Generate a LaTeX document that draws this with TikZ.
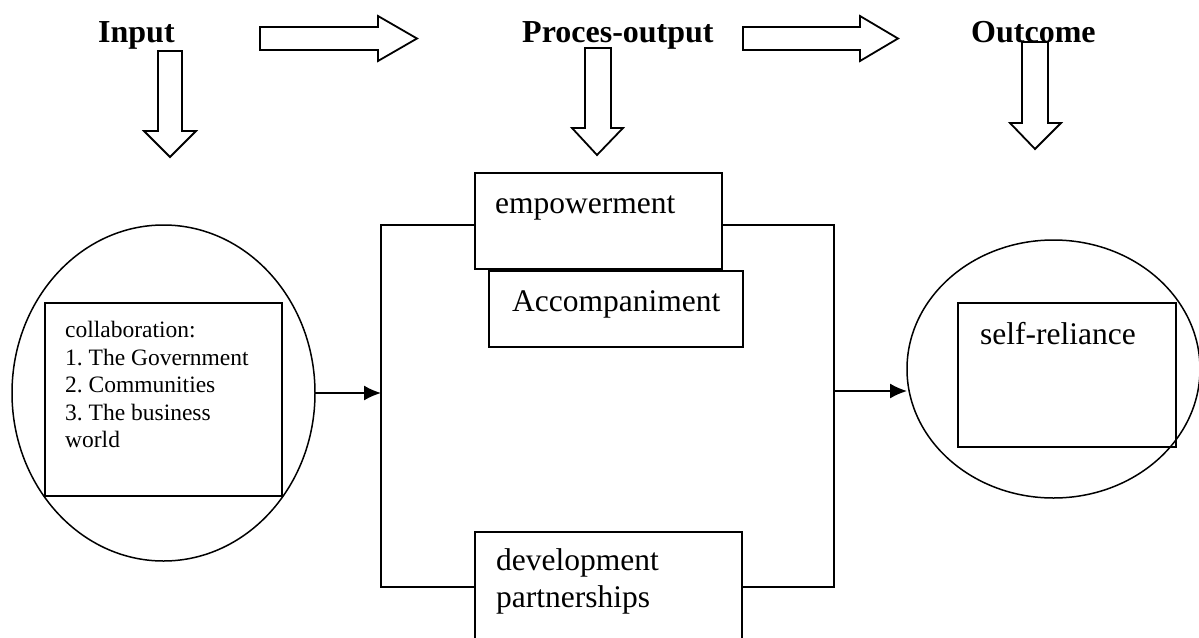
\documentclass[tikz,border=0pt]{standalone}
\usepackage{fontspec}
\setmainfont{Liberation Serif}
\usetikzlibrary{shapes.geometric,arrows.meta}
\frenchspacing

\begin{document}
\begin{tikzpicture}[x=1pt, y=-1pt,
  heading/.style={anchor=base west, inner sep=0pt, font=\bfseries\fontsize{32}{38}\selectfont},
  blockarrow/.style={draw, line width=1.8pt, line join=miter},
  ring/.style={draw, ellipse, line width=1.5pt, inner sep=0pt, outer sep=0pt},
  box/.style={draw, rectangle, line width=1.8pt, anchor=north west, inner sep=0pt, outer sep=0pt},
  boxtext/.style={inner sep=0pt, font=\fontsize{31.5}{37}\selectfont},
  smalltext/.style={inner sep=0pt, font=\fontsize{23.5}{27.5}\selectfont},
  bracket/.style={draw, line width=1.5pt},
  link/.style={draw, line width=1.5pt, -{Latex[length=17pt,width=15pt]}}]
\useasboundingbox (0,0) rectangle (1199,637);
% headings
\node[heading] (input) at (98,42) {Input};
\node[heading] (proces) at (522,42) {Proces-output};
\node[heading] (outcome) at (971,42) {Outcome};
% block arrows
\draw[blockarrow] (260,27) -- (378,27) -- (378,16) -- (417,38.5) -- (378,61) -- (378,50) -- (260,50) -- cycle;
\draw[blockarrow] (743,27) -- (860,27) -- (860,16) -- (898,38.5) -- (860,61) -- (860,50) -- (743,50) -- cycle;
\draw[blockarrow] (158,51) -- (182,51) -- (182,131) -- (196,131) -- (170,157) -- (144,131) -- (158,131) -- cycle;
\draw[blockarrow] (585,48) -- (611,48) -- (611,128) -- (623,128) -- (597,155) -- (572,128) -- (585,128) -- cycle;
\draw[blockarrow] (1022,42) -- (1048,42) -- (1048,123) -- (1061,123) -- (1035,149) -- (1010,123) -- (1022,123) -- cycle;
% circles
\node[ring, minimum width=303pt, minimum height=336pt] (incircle) at (163.5,393) {};
\node[ring, minimum width=293pt, minimum height=258pt] (outcircle) at (1053.5,369) {};
% boxes
\node[box, minimum width=237pt, minimum height=193pt] (collab) at (45,303) {};
\node[box, minimum width=247pt, minimum height=96pt] (empower) at (475,173) {};
\node[box, minimum width=254pt, minimum height=76pt] (accomp) at (489,271) {};
\node[box, minimum width=267pt, minimum height=140pt] (devpart) at (475,532) {};
\node[box, minimum width=218pt, minimum height=144pt] (selfrel) at (958,303) {};
% labels
\node[smalltext, anchor=north west, align=left] (collabtext) at (65,321)
  {collaboration:\\1. The Government\\2. Communities\\3. The business\\world};
\node[boxtext, anchor=base west] (empowertext) at (495,213) {empowerment};
\node[boxtext, anchor=base west] (accomptext) at (512,311) {Accompaniment};
\node[boxtext, anchor=north west, align=left] (devparttext) at (496,548.5) {development\\partnerships};
\node[boxtext, anchor=base west] (selfreltext) at (980,344) {self-reliance};
% bracket
\coordinate (procin) at (381,393);
\coordinate (procout) at (834,391);
\draw[bracket] (empower.west |- 0,225) -- (381,225) -- (381,587) -- (devpart.west |- 0,587);
\draw[bracket] (empower.east |- 0,225) -- (834,225) -- (834,587) -- (devpart.east |- 0,587);
% arrows
\draw[link] (incircle.east) -- (procin);
\draw[link] (procout) -- (procout -| outcircle.west);
\end{tikzpicture}
\end{document}
